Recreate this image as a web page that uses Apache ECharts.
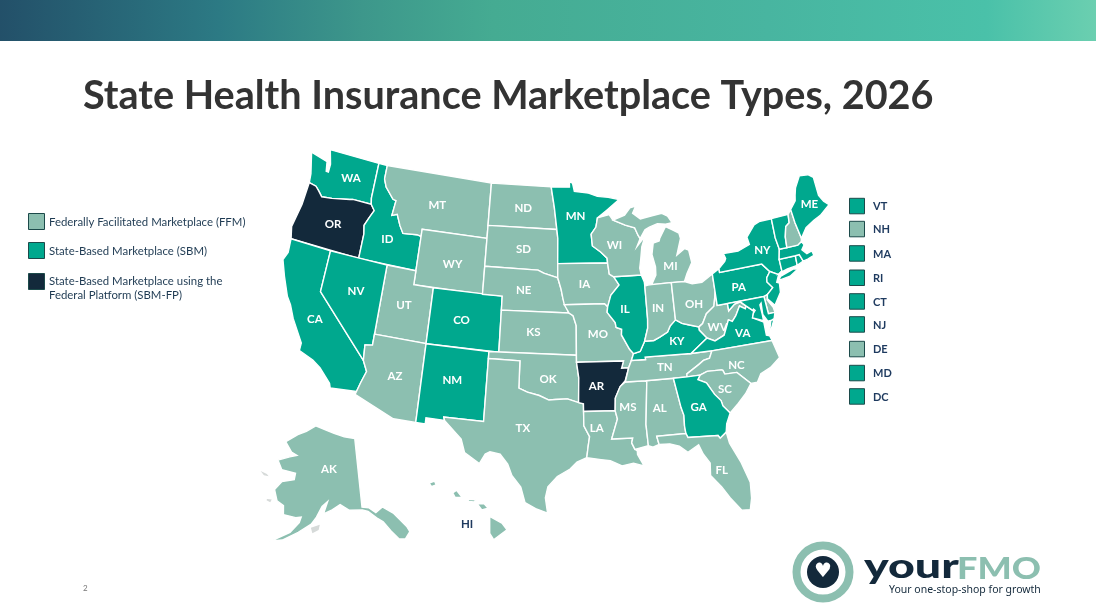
<!DOCTYPE html>
<html><head><meta charset="utf-8">
<style>html,body{margin:0;padding:0;background:#fff}#c{width:1096px;height:613px}</style>
<script src="https://cdn.jsdelivr.net/npm/echarts@6/dist/echarts.min.js"></script>
</head><body><div id="c"></div>
<script>
const titleText = 'State Health Insurance Marketplace Types, 2026';
const categoryNames = ['Federally Facilitated Marketplace (FFM)','State-Based Marketplace (SBM)','State-Based Marketplace using the\nFederal Platform (SBM-FP)'];
const categoryColors = ['#8CBFB0','#00A88E','#13293B'];
const ffmStates = ['MT','WY','UT','AZ','ND','SD','NE','KS','OK','TX','IA','MO','LA','WI','MS','MI','IN','TN','AL','OH','WV','NC','SC','FL','NH','DE','AK','HI'];
const sbmStates = ['WA','ID','NV','CA','CO','NM','MN','IL','KY','VA','GA','PA','NY','ME','VT','MA','RI','CT','NJ','MD','DC'];
const fpStates = ['OR','AR'];
const smallStates = ['VT','NH','MA','RI','CT','NJ','DE','MD','DC'];

// State outlines in longitude / latitude
const outlines = {
WA:[[[-124.7,48.4],[-123.1,48.15],[-122.75,48.1],[-122.55,47.4],[-122.3,47.4],[-122.3,48.0],[-122.75,49.0],[-117.03,49.0],[-117.04,46.42],[-116.92,45.99],[-118.98,46.0],[-119.3,45.93],[-121.2,45.65],[-122.3,45.55],[-122.8,45.9],[-123.2,46.15],[-124.0,46.25],[-124.1,46.9]]],
OR:[[[-124.0,46.25],[-123.2,46.15],[-122.8,45.9],[-122.3,45.55],[-121.2,45.65],[-119.3,45.93],[-118.98,46.0],[-116.92,45.99],[-116.47,45.6],[-116.85,45.0],[-117.2,44.4],[-117.03,43.8],[-117.03,42.0],[-124.2,42.0],[-124.5,42.85],[-124.1,44.6]]],
CA:[[[-124.2,42.0],[-120.0,42.0],[-120.0,39.0],[-114.63,35.0],[-114.15,34.27],[-114.5,33.4],[-114.72,32.72],[-117.1,32.53],[-117.25,32.85],[-118.4,33.75],[-119.2,34.15],[-120.6,34.55],[-120.6,35.1],[-121.9,36.6],[-122.5,37.5],[-123.0,38.0],[-123.8,39.3],[-124.4,40.4],[-124.1,41.0]]],
ID:[[[-117.03,42.0],[-117.03,43.8],[-117.2,44.4],[-116.85,45.0],[-116.47,45.6],[-116.92,45.99],[-117.04,46.42],[-117.03,49.0],[-116.05,49.0],[-116.05,48.0],[-115.7,47.45],[-114.7,46.7],[-114.35,46.65],[-114.5,45.55],[-113.95,45.7],[-113.45,44.95],[-113.0,44.45],[-111.5,44.55],[-111.05,44.48],[-111.05,42.0]]],
MT:[[[-116.05,49.0],[-104.05,49.0],[-104.05,45.0],[-111.05,45.0],[-111.05,44.48],[-111.5,44.55],[-113.0,44.45],[-113.45,44.95],[-113.95,45.7],[-114.5,45.55],[-114.35,46.65],[-114.7,46.7],[-115.7,47.45],[-116.05,48.0]]],
WY:[[[-111.05,45.0],[-104.05,45.0],[-104.05,41.0],[-111.05,41.0]]],
UT:[[[-114.05,42.0],[-111.05,42.0],[-111.05,41.0],[-109.05,41.0],[-109.05,37.0],[-114.05,37.0]]],
NV:[[[-120.0,42.0],[-114.05,42.0],[-114.05,36.2],[-114.75,36.1],[-114.63,35.0],[-120.0,39.0]]],
AZ:[[[-114.05,37.0],[-109.05,37.0],[-109.05,31.33],[-111.07,31.33],[-114.8,32.5],[-114.72,32.72],[-114.5,33.4],[-114.15,34.27],[-114.63,35.0],[-114.75,36.1],[-114.05,36.2]]],
CO:[[[-109.05,41.0],[-102.05,41.0],[-102.05,37.0],[-109.05,37.0]]],
NM:[[[-109.05,37.0],[-103.0,37.0],[-103.04,32.0],[-106.62,32.0],[-106.53,31.78],[-108.2,31.78],[-108.2,31.33],[-109.05,31.33]]],
ND:[[[-104.05,49.0],[-97.23,49.0],[-96.85,47.5],[-96.56,45.94],[-104.05,45.94]]],
SD:[[[-104.05,45.94],[-96.56,45.94],[-96.45,45.3],[-96.45,43.5],[-96.44,42.49],[-97.9,42.8],[-98.5,43.0],[-104.05,43.0]]],
NE:[[[-104.05,43.0],[-98.5,43.0],[-97.9,42.8],[-96.44,42.49],[-96.1,41.7],[-95.9,41.0],[-95.31,40.0],[-102.05,40.0],[-102.05,41.0],[-104.05,41.0]]],
KS:[[[-102.05,40.0],[-95.31,40.0],[-94.9,39.8],[-94.6,39.1],[-94.62,37.0],[-102.05,37.0]]],
OK:[[[-103.0,37.0],[-94.62,37.0],[-94.62,36.5],[-94.43,35.4],[-94.48,33.64],[-95.5,33.9],[-96.6,33.85],[-97.2,33.8],[-98.1,34.1],[-99.2,34.3],[-100.0,34.56],[-100.0,36.5],[-103.0,36.5]]],
TX:[[[-103.0,36.5],[-100.0,36.5],[-100.0,34.56],[-99.2,34.3],[-98.1,34.1],[-97.2,33.8],[-96.6,33.85],[-95.5,33.9],[-94.48,33.64],[-94.04,33.55],[-94.04,33.0],[-94.04,31.99],[-93.55,31.2],[-93.7,30.5],[-93.84,29.7],[-94.7,29.4],[-95.3,28.9],[-96.4,28.35],[-97.2,27.6],[-97.4,26.8],[-97.2,25.7],[-98.2,26.0],[-99.1,26.4],[-99.5,27.5],[-100.3,28.3],[-100.7,29.1],[-101.4,29.77],[-102.3,29.88],[-102.7,29.7],[-103.15,28.98],[-104.5,29.65],[-104.9,30.6],[-106.53,31.78],[-106.62,32.0],[-103.04,32.0]]],
MN:[[[-97.23,49.0],[-95.15,49.0],[-95.15,49.38],[-94.8,49.3],[-94.6,48.7],[-93.0,48.55],[-92.0,48.3],[-90.8,48.2],[-89.6,48.0],[-91.0,47.3],[-92.1,46.75],[-92.3,46.1],[-92.85,45.6],[-92.75,44.75],[-91.9,44.3],[-91.25,43.85],[-91.22,43.5],[-96.45,43.5],[-96.45,45.3],[-96.56,45.94],[-96.85,47.5]]],
IA:[[[-96.45,43.5],[-91.22,43.5],[-91.1,42.7],[-90.65,42.5],[-90.15,41.9],[-91.05,41.2],[-91.42,40.38],[-91.73,40.61],[-95.77,40.58],[-95.9,41.0],[-96.1,41.7],[-96.44,42.49]]],
MO:[[[-95.77,40.58],[-91.73,40.61],[-91.42,40.38],[-91.5,40.0],[-90.75,39.25],[-90.68,38.9],[-90.15,38.75],[-90.2,38.35],[-89.5,37.3],[-89.15,36.98],[-89.4,36.5],[-89.7,36.0],[-90.37,36.0],[-90.15,36.5],[-94.62,36.5],[-94.62,37.0],[-94.6,39.1],[-94.9,39.8],[-95.31,40.0]]],
AR:[[[-94.62,36.5],[-90.15,36.5],[-90.37,36.0],[-89.7,36.0],[-90.1,35.1],[-90.6,34.7],[-91.1,33.9],[-91.17,33.0],[-94.04,33.0],[-94.04,33.55],[-94.48,33.64],[-94.43,35.4]]],
LA:[[[-94.04,33.0],[-91.17,33.0],[-91.0,32.4],[-91.6,31.0],[-89.73,31.0],[-89.85,30.65],[-89.6,30.18],[-89.4,30.05],[-89.4,29.8],[-88.9,28.95],[-89.8,29.2],[-90.8,29.05],[-91.8,29.45],[-92.6,29.55],[-93.84,29.7],[-93.7,30.5],[-93.55,31.2],[-94.04,31.99]]],
MS:[[[-90.1,35.0],[-88.2,35.0],[-88.1,34.9],[-88.47,31.9],[-88.4,30.37],[-89.6,30.18],[-89.85,30.65],[-89.73,31.0],[-91.6,31.0],[-91.0,32.4],[-91.17,33.0],[-91.1,33.9],[-90.6,34.7]]],
AL:[[[-88.2,35.0],[-85.6,35.0],[-85.18,32.87],[-85.0,32.3],[-85.05,31.55],[-85.0,31.0],[-87.6,31.0],[-87.45,30.4],[-88.0,30.25],[-88.4,30.37],[-88.47,31.9],[-88.1,34.9]]],
TN:[[[-90.1,35.0],[-89.7,36.0],[-89.4,36.5],[-88.05,36.5],[-88.07,36.68],[-83.68,36.6],[-81.68,36.59],[-82.0,36.1],[-82.6,36.0],[-83.1,35.75],[-84.3,35.2],[-84.32,34.99],[-85.6,35.0],[-88.2,35.0]]],
KY:[[[-89.4,36.5],[-89.15,36.98],[-88.5,37.1],[-88.0,37.8],[-87.1,37.8],[-86.5,38.0],[-85.7,38.3],[-85.4,38.7],[-84.8,39.1],[-84.2,38.8],[-83.6,38.65],[-82.6,38.4],[-82.6,38.17],[-81.97,37.54],[-83.68,36.6],[-88.07,36.68],[-88.05,36.5]]],
IL:[[[-90.65,42.5],[-87.8,42.5],[-87.55,42.0],[-87.53,41.7],[-87.53,39.35],[-87.6,38.7],[-88.0,37.8],[-88.5,37.1],[-89.15,36.98],[-89.5,37.3],[-90.2,38.35],[-90.15,38.75],[-90.68,38.9],[-90.75,39.25],[-91.5,40.0],[-91.42,40.38],[-91.05,41.2],[-90.15,41.9]]],
WI:[[[-92.1,46.75],[-90.8,46.95],[-90.4,46.55],[-89.1,46.14],[-88.1,45.9],[-87.8,45.35],[-87.6,45.1],[-88.0,44.55],[-87.05,45.25],[-87.5,44.5],[-87.7,43.7],[-87.9,43.0],[-87.8,42.5],[-90.65,42.5],[-91.1,42.7],[-91.22,43.5],[-91.25,43.85],[-91.9,44.3],[-92.75,44.75],[-92.85,45.6],[-92.3,46.1]]],
MI:[[[[-90.4,46.55],[-89.1,46.85],[-88.45,47.35],[-87.8,47.45],[-88.2,46.95],[-87.4,46.5],[-86.1,46.65],[-85.0,46.75],[-84.4,46.5],[-84.0,46.0],[-84.7,45.95],[-85.6,46.05],[-86.5,45.85],[-87.0,45.7],[-87.6,45.1],[-87.8,45.35],[-88.1,45.9],[-89.1,46.14]]],[[[-84.75,45.78],[-85.5,45.0],[-85.6,44.8],[-86.25,44.7],[-86.5,43.9],[-86.25,43.0],[-86.3,42.4],[-86.82,41.76],[-84.8,41.76],[-83.45,41.73],[-83.1,42.25],[-82.45,43.0],[-82.6,43.9],[-83.0,44.05],[-83.9,43.65],[-83.3,44.8],[-83.4,45.2],[-84.1,45.5]]]],
IN:[[[-87.53,41.7],[-87.2,41.75],[-86.82,41.76],[-84.8,41.76],[-84.8,39.1],[-85.4,38.7],[-85.7,38.3],[-86.5,38.0],[-87.1,37.8],[-88.0,37.8],[-87.6,38.7],[-87.53,39.35]]],
OH:[[[-84.8,41.76],[-83.45,41.73],[-82.7,41.5],[-81.7,41.5],[-80.52,41.98],[-80.52,40.64],[-80.85,39.7],[-81.7,39.25],[-82.2,38.6],[-82.6,38.4],[-83.6,38.65],[-84.2,38.8],[-84.8,39.1]]],
WV:[[[-82.6,38.17],[-82.6,38.4],[-82.2,38.6],[-81.7,39.25],[-80.85,39.7],[-80.52,40.64],[-80.52,39.72],[-79.48,39.72],[-79.48,39.2],[-78.8,39.6],[-78.2,39.68],[-77.72,39.32],[-77.83,39.13],[-78.35,39.4],[-78.87,38.77],[-79.3,38.42],[-79.65,38.57],[-80.3,37.55],[-81.25,37.25],[-81.97,37.54]]],
VA:[[[[-83.68,36.6],[-81.97,37.54],[-81.25,37.25],[-80.3,37.55],[-79.65,38.57],[-79.3,38.42],[-78.87,38.77],[-78.35,39.4],[-77.83,39.13],[-77.72,39.32],[-77.05,38.85],[-77.3,38.4],[-76.3,37.95],[-76.3,37.0],[-76.0,36.9],[-75.87,36.55],[-81.68,36.59]]],[[[-75.95,37.15],[-75.6,37.95],[-75.25,38.03],[-75.9,37.1]]]],
NC:[[[-84.32,34.99],[-84.3,35.2],[-83.1,35.75],[-82.6,36.0],[-82.0,36.1],[-81.68,36.59],[-75.87,36.55],[-75.5,35.25],[-76.5,34.7],[-77.5,34.4],[-77.95,33.85],[-78.55,33.85],[-79.67,34.8],[-80.8,34.82],[-80.93,35.1],[-81.05,35.15],[-82.4,35.2],[-83.1,35.0]]],
SC:[[[-83.1,35.0],[-82.4,35.2],[-81.05,35.15],[-80.93,35.1],[-80.8,34.82],[-79.67,34.8],[-78.55,33.85],[-79.2,33.2],[-80.0,32.6],[-80.85,32.03],[-81.4,32.6],[-81.5,33.0],[-82.0,33.5],[-82.6,34.4],[-83.35,34.7]]],
GA:[[[-85.6,35.0],[-84.32,34.99],[-83.1,35.0],[-83.35,34.7],[-82.6,34.4],[-82.0,33.5],[-81.5,33.0],[-81.4,32.6],[-80.85,32.03],[-81.3,31.3],[-81.45,30.72],[-82.05,30.36],[-82.2,30.57],[-84.86,30.7],[-85.0,31.0],[-85.05,31.55],[-85.0,32.3],[-85.18,32.87]]],
FL:[[[-87.6,31.0],[-85.0,31.0],[-84.86,30.7],[-82.2,30.57],[-82.05,30.36],[-81.45,30.72],[-81.3,29.9],[-80.55,28.4],[-80.05,26.9],[-80.15,25.75],[-80.4,24.95],[-81.1,25.0],[-81.9,26.0],[-82.5,26.9],[-83.3,27.8],[-83.2,28.7],[-83.7,29.4],[-84.0,30.1],[-85.0,29.65],[-85.7,30.15],[-86.5,30.38],[-87.45,30.4]]],
PA:[[[-80.52,41.98],[-79.76,42.27],[-79.76,42.0],[-75.35,42.0],[-74.7,41.36],[-75.13,40.98],[-75.2,40.68],[-74.75,40.2],[-75.42,39.8],[-75.79,39.72],[-80.52,39.72]]],
NY:[[[[-79.76,42.27],[-79.05,42.7],[-78.9,42.9],[-79.05,43.27],[-77.5,43.25],[-76.2,43.55],[-76.3,44.1],[-75.3,44.85],[-74.7,45.0],[-73.35,45.0],[-73.4,43.6],[-73.25,42.75],[-73.5,42.05],[-73.49,41.2],[-73.73,41.1],[-73.9,41.0],[-74.7,41.36],[-75.35,42.0],[-79.76,42.0]]],[[[-74.0,40.6],[-73.75,40.85],[-72.3,41.15],[-71.9,41.05],[-72.8,40.7]]]],
NJ:[[[-74.7,41.36],[-73.9,41.0],[-74.25,40.5],[-74.0,40.4],[-74.1,39.75],[-74.9,38.95],[-75.5,39.5],[-75.42,39.8],[-74.75,40.2],[-75.2,40.68],[-75.13,40.98]]],
DE:[[[-75.79,39.72],[-75.42,39.8],[-75.55,39.45],[-75.1,38.8],[-75.05,38.45],[-75.7,38.46]]],
MD:[[[-79.48,39.72],[-75.79,39.72],[-75.7,38.46],[-75.05,38.45],[-75.25,38.03],[-75.6,37.95],[-75.9,37.95],[-76.25,38.5],[-76.2,39.3],[-76.35,39.2],[-76.3,38.5],[-76.3,38.05],[-77.0,38.3],[-77.3,38.4],[-77.05,38.85],[-77.72,39.32],[-78.2,39.68],[-78.8,39.6],[-79.48,39.2]]],
DC:[[[-77.12,38.93],[-77.04,39.0],[-76.91,38.89],[-77.04,38.79]]],
CT:[[[-73.5,42.05],[-71.8,42.02],[-71.85,41.32],[-72.9,41.25],[-73.73,41.1],[-73.49,41.2]]],
RI:[[[-71.8,42.02],[-71.38,42.02],[-71.15,41.5],[-71.85,41.32]]],
MA:[[[-73.25,42.75],[-71.3,42.7],[-70.85,42.88],[-70.65,42.6],[-71.0,42.3],[-70.6,41.95],[-70.05,42.05],[-69.95,41.7],[-70.65,41.55],[-71.15,41.5],[-71.38,42.02],[-71.8,42.02],[-73.5,42.05]]],
VT:[[[-73.35,45.0],[-71.5,45.0],[-71.6,44.4],[-72.05,44.2],[-72.35,43.5],[-72.45,42.73],[-73.25,42.75],[-73.4,43.6]]],
NH:[[[-71.5,45.0],[-71.1,45.3],[-71.0,44.3],[-70.75,43.1],[-70.85,42.88],[-71.3,42.7],[-72.45,42.73],[-72.35,43.5],[-72.05,44.2],[-71.6,44.4]]],
ME:[[[-71.1,45.3],[-70.4,45.8],[-70.25,46.2],[-70.0,46.7],[-69.25,47.45],[-68.3,47.35],[-67.8,47.05],[-67.8,45.7],[-67.45,45.2],[-67.0,44.85],[-68.2,44.3],[-69.0,44.1],[-70.0,43.75],[-70.75,43.1],[-71.0,44.3]]],
AK:[[[-141,69.65],[-145,70.0],[-149,70.5],[-152,70.85],[-156.6,71.35],[-160,70.4],[-163,69.7],[-166.7,68.35],[-163.8,67.2],[-161.7,66.9],[-164,66.5],[-167.5,65.65],[-165.5,64.55],[-161,64.5],[-161,63.6],[-164.5,63.0],[-166,61.7],[-164.5,60.3],[-162.5,59.9],[-162,58.7],[-158.7,58.6],[-157.3,58.8],[-157.6,58.0],[-159.5,56.5],[-163,55.1],[-164.8,54.6],[-161,55.3],[-157.5,56.7],[-154.5,58.0],[-153.3,59],[-152,60.5],[-150.5,61.2],[-151.5,59.5],[-149.5,60],[-147,60.8],[-144.5,60],[-141,59.9],[-139.5,59.6],[-137.5,58.6],[-136,57.9],[-134.5,56.5],[-133,55.2],[-131.6,55],[-130.1,55.8],[-130.5,56.6],[-133,58.8],[-135.5,59.9],[-137.5,59.3],[-139.2,60.1],[-141,60.3]]],
HI:[[[[-155.9,20.25],[-155.1,19.85],[-154.8,19.5],[-155.65,18.95],[-155.9,19.3]]],[[[-156.7,20.95],[-156.25,20.95],[-156.0,20.7],[-156.4,20.6]]],[[[-158.25,21.55],[-158,21.7],[-157.65,21.3],[-158.1,21.3]]],[[[-159.75,22.1],[-159.4,22.2],[-159.3,22],[-159.6,21.9]]],[[[-157.3,21.2],[-156.75,21.17],[-156.9,21.05],[-157.25,21.08]]]],
ISLETS:[[[[-154.5,57.5],[-152.3,58.0],[-152.5,57.3],[-154,56.8]]],[[[-171.6,63.5],[-169.5,63.4],[-168.8,63.2],[-170.2,63.1]]],[[[-167.3,60.2],[-166,60.3],[-166.2,59.9],[-167.3,60.0]]]]
};
const multiPart = ['MI','VA','NY','HI','ISLETS'];

// Label anchor per state in longitude / latitude
const labelAnchors = {WA:[-119.7,47.4],OR:[-120.4,43.9],CA:[-119.9,37.0],NV:[-116.6,39.65],ID:[-114.5,43.8],MT:[-109.8,46.9],WY:[-107.4,42.9],UT:[-111.7,39.4],AZ:[-111.5,34.3],CO:[-105.9,39],NM:[-106.2,34.65],ND:[-100.3,47.35],SD:[-100.1,44.45],NE:[-99.9,41.5],KS:[-98.8,38.55],OK:[-97.3,35.3],TX:[-99.5,31.7],MN:[-94.5,46.9],IA:[-93.7,42],MO:[-92.5,38.45],AR:[-92.8,34.8],LA:[-92.9,31.8],MS:[-90.0,33.2],AL:[-87.1,33],TN:[-86.3,35.85],KY:[-84.9,37.55],IL:[-89.7,40.15],IN:[-86.4,40.05],OH:[-82.8,40],MI:[-84.7,42.95],WI:[-90.4,44.75],WV:[-80.8,38.2],VA:[-78.5,37.45],NC:[-79.6,35.3],SC:[-81,33.75],GA:[-83.6,32.75],FL:[-82.3,28.05],PA:[-78.1,40.7],NY:[-75,42.95],ME:[-69,45.3],AK:[-150.5,65.6],HI:[-157.34,19.82]};

const R = Math.PI/180;
function conic(lon,lat,lon0,lat0,p1,p2){
  const n=(Math.sin(p1*R)+Math.sin(p2*R))/2;
  const C=Math.cos(p1*R)**2+2*n*Math.sin(p1*R);
  const rho=f=>Math.sqrt(C-2*n*Math.sin(f*R))/n;
  const t=n*(lon-lon0)*R;
  return [rho(lat)*Math.sin(t), rho(lat0)-rho(lat)*Math.cos(t)];
}
function project(p){
  const lon=p[0],lat=p[1];
  if(lat<24){ return [496+15.75*(lon+155.5), 528-18*(lat-19.6)]; }
  if(lat>51&&lon<-129){
    const a=conic(lon,lat,-148,58,55,65), b=conic(-141,60.3,-148,58,55,65);
    return [362+423*(a[0]-b[0]), 507-423*(a[1]-b[1])];
  }
  const q=conic(lon,lat,-96,37.5,29.5,45.5);
  const x=562+757*q[0];
  return [x, 345-800*q[1]+0.012*(x-300)];
}
const features = Object.keys(outlines).map(k=>({type:'Feature',properties:{name:k,cp:labelAnchors[k]},
  geometry:{type:multiPart.includes(k)?'MultiPolygon':'Polygon',coordinates:outlines[k]}}));
echarts.registerMap('US',{type:'FeatureCollection',features});

let x0=1e9,y0=1e9,x1=-1e9,y1=-1e9;
const eat=a=>{ if(typeof a[0]==='number'){const q=project(a);x0=Math.min(x0,q[0]);x1=Math.max(x1,q[0]);y0=Math.min(y0,q[1]);y1=Math.max(y1,q[1]);} else a.forEach(eat); };
Object.values(outlines).forEach(eat);

const stateData=[];
[ffmStates,sbmStates,fpStates].forEach((list,c)=>list.forEach(s=>{
  stateData.push({name:s,value:c,itemStyle:{areaColor:categoryColors[c]},
    label:{show:!smallStates.includes(s),color:s==='HI'?'#1F3A5F':'#fff'}});
}));
stateData.push({name:'ISLETS',value:-1,itemStyle:{areaColor:'#D6DAD9',borderWidth:0},label:{show:false}});

// legends
const graphics=[];
graphics.push({type:'rect',shape:{x:0,y:0,width:1096,height:41},style:{fill:new echarts.graphic.LinearGradient(0,0,1,0,[{offset:0,color:'#235069'},{offset:0.2,color:'#2C7A84'},{offset:0.33,color:'#3D978B'},{offset:0.45,color:'#45AB92'},{offset:0.7,color:'#48B5A0'},{offset:0.9,color:'#4AC1A9'},{offset:1,color:'#6BCFB0'}])}});
const leftRows=[213,242,273];
categoryNames.forEach((nm,i)=>{
  graphics.push({type:'rect',shape:{x:28.5,y:leftRows[i]+.5,width:16,height:16},style:{fill:categoryColors[i],stroke:'#1C4A4A',lineWidth:1}});
  graphics.push({type:'text',x:49,y:leftRows[i]+(i===2?2:3),style:{text:nm,font:'11.4px Lato',fill:'#1E3A52',lineHeight:13.5}});
});
const rightRows=[206.3,229.3,253.7,278,301.7,324.7,349.3,373.3,396.7];
smallStates.forEach((s,i)=>{
  const c=sbmStates.includes(s)?1:0;
  graphics.push({type:'rect',shape:{x:849.5,y:rightRows[i]-8,width:15,height:15.5},style:{fill:categoryColors[c],stroke:'#1C4A4A',lineWidth:1}});
  graphics.push({type:'text',x:873,y:rightRows[i]+.5,style:{text:s,font:'bold 11px Lato',fill:'#1E3A5F',verticalAlign:'middle'}});
});
// page number and logo
graphics.push({type:'text',x:83,y:584,style:{text:'2',font:'8px Lato',fill:'#777'}});
graphics.push({type:'circle',shape:{cx:823,cy:572,r:26.5},style:{fill:'none',stroke:'#8CBFB0',lineWidth:8}});
graphics.push({type:'circle',shape:{cx:823,cy:572,r:16},style:{fill:'#13293B'}});
graphics.push({type:'text',x:823,y:572,style:{text:'\u2665',font:'20px "DejaVu Sans"',fill:'#fff',align:'center',verticalAlign:'middle'}});
graphics.push({type:'text',x:864,y:549,scaleX:1.33,style:{text:'your',font:'900 35px Lato',fill:'#13293B'}});
graphics.push({type:'text',x:957,y:554,scaleX:1.2,style:{text:'FMO',font:'900 30px Lato',fill:'#8CBFB0'}});
graphics.push({type:'text',x:889,y:585,style:{text:'Your one-stop-shop for growth',font:'10.5px "Noto Sans"',fill:'#13293B'}});

const option={
  animation:false,
  backgroundColor:'#fff',
  title:{text:titleText,left:83,top:76,padding:0,textStyle:{fontFamily:'Lato',fontWeight:'bold',fontSize:39.6,color:'#333'}},
  graphic:graphics,
  series:[{type:'map',map:'US',silent:true,
    projection:{project,unproject:p=>p},
    left:x0,top:y0,width:x1-x0,height:y1-y0,
    itemStyle:{borderColor:'#fff',borderWidth:1.4,areaColor:'#8CBFB0'},
    label:{show:true,color:'#fff',fontFamily:'Lato',fontWeight:'bold',fontSize:11.5},
    data:stateData}]
};
echarts.init(document.getElementById('c'),null,{renderer:'canvas'}).setOption(option);
</script></body></html>
